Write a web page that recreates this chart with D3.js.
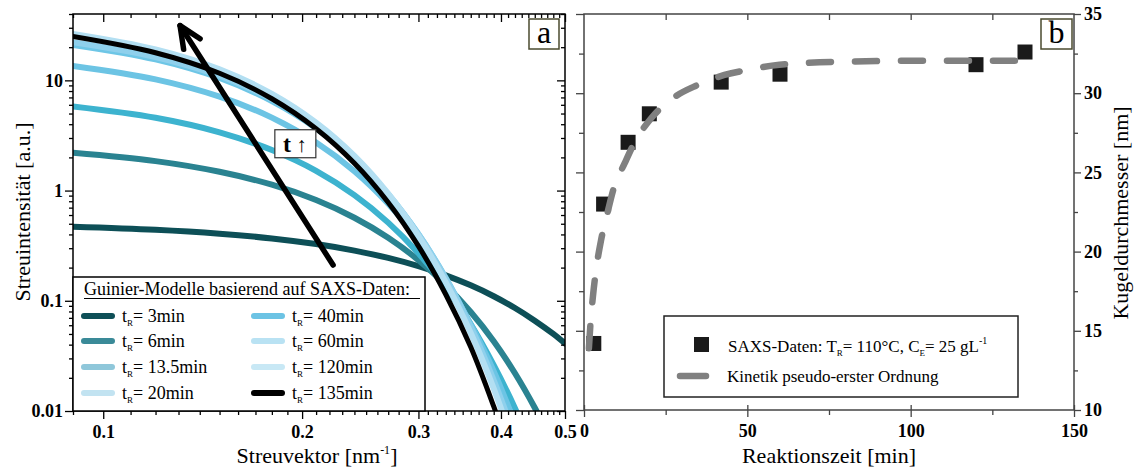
<!DOCTYPE html>
<html>
<head>
<meta charset="utf-8">
<script src="https://cdn.jsdelivr.net/npm/d3@7"></script>
<style>
  body { margin: 0; background: #fff; }
  text { font-family: "Liberation Serif", "Times New Roman", serif; }
  .tick text { font-size: 18px; font-weight: bold; fill: #000; }
</style>
</head>
<body>
<div id="chart"></div>
<script>
// ---- panel a: Guinier models ----
const qValues = [0.09, 0.12, 0.15, 0.18, 0.21, 0.24, 0.27, 0.30, 0.33, 0.36, 0.39, 0.42, 0.45, 0.48, 0.50];
const seriesLabels = ['3min', '6min', '13.5min', '20min', '40min', '60min', '120min', '135min'];
const int3 = [0.470, 0.441, 0.406, 0.368, 0.327, 0.285, 0.245, 0.206, 0.170, 0.138, 0.110, 0.086, 0.066, 0.050, 0.041];
const int6 = [2.20, 1.85, 1.48, 1.13, 0.821, 0.567, 0.373, 0.234, 0.139, 0.079, 0.043, 0.022, 0.0107, 0.0050];
const int13 = [5.80, 4.58, 3.38, 2.33, 1.51, 0.908, 0.512, 0.270, 0.133, 0.061, 0.026, 0.0106, 0.0040];
const int20 = [13.5, 10.2, 7.11, 4.59, 2.73, 1.50, 0.760, 0.356, 0.154, 0.061, 0.023, 0.0077];
const int40 = [21.0, 15.5, 10.5, 6.48, 3.68, 1.92, 0.916, 0.401, 0.161, 0.059, 0.020, 0.0062];
const int60 = [22.2, 16.3, 11.0, 6.75, 3.80, 1.96, 0.927, 0.401, 0.159, 0.058, 0.019, 0.0058];
const int120 = [26.4, 19.1, 12.6, 7.54, 4.13, 2.06, 0.936, 0.388, 0.147, 0.051, 0.016, 0.0045];
const int135 = [25.0, 17.8, 11.6, 6.81, 3.64, 1.77, 0.780, 0.313, 0.114, 0.038, 0.011, 0.0031];
const xTicksA = [0.1, 0.2, 0.3, 0.4, 0.5];
const yTicksA = [0.01, 0.1, 1, 10];

// ---- panel b: particle diameter vs reaction time ----
const timeMin = [3, 6, 13.5, 20, 42, 60, 120, 135];
const diameterNm = [14.2, 23.0, 26.9, 28.7, 30.7, 31.2, 31.8, 32.6];
const fitTime = [1.5, 2.0, 2.8, 3.8, 5.2, 6.9, 9.1, 12.5, 15.5, 20.5, 27.3, 34.6, 43, 50.9, 59.8, 82.3, 104.7, 139];
const fitDiameter = [13.9, 15.5, 17.3, 19.0, 20.7, 22.2, 24.0, 25.6, 26.9, 28.4, 29.7, 30.5, 31.15, 31.5, 31.8, 32.0, 32.05, 32.05];
const xTicksB = [0, 50, 100, 150];
const yTicksB = [10, 15, 20, 25, 30, 35];

const lineColors = ['#0d4f57', '#2a8391', '#3db3cf', '#6cc4e4', '#6ec6e6', '#8fd0ec', '#b3dff2', '#000000'];
const legendColors = ['#0e4f57', '#3a8a98', '#8fc7da', '#c2e3f1', '#6cc3e4', '#b9e2f3', '#c8e8f5', '#000000'];
const intensities = [int3, int6, int13, int20, int40, int60, int120, int135];

const svg = d3.select('#chart').append('svg')
    .attr('width', 1136)
    .attr('height', 470);

const xA = d3.scaleLog().domain([0.09, 0.5]).range([73, 565]);
const yA = d3.scaleLog().domain([0.01, 40]).range([411, 14]);
const xB = d3.scaleLinear().domain([0, 150]).range([584, 1074]);
const yB = d3.scaleLinear().domain([10, 35]).range([410, 14]);

function drawAxis(axis, tx, ty, color) {
    const g = svg.append('g')
        .attr('transform', `translate(${tx},${ty})`)
        .call(axis);
    g.select('.domain').remove();
    g.selectAll('.tick line').attr('stroke', color).attr('stroke-width', 1.3);
    return g;
}

// minor tick values
const xMinorA = d3.range(9, 51).map(d => d / 100).filter(d => !xTicksA.some(m => Math.abs(m - d) < 1e-9));
const yMinorA = [];
yTicksA.forEach(dec => d3.range(2, 10).forEach(m => { if (dec * m <= 40) yMinorA.push(dec * m); }));
const noLabel = () => '';

// ---------- panel a ----------
svg.append('clipPath').attr('id', 'clipA')
    .append('rect')
    .attr('x', xA.range()[0]).attr('y', yA.range()[1])
    .attr('width', xA.range()[1] - xA.range()[0])
    .attr('height', yA.range()[0] - yA.range()[1]);

const lineA = d3.line()
    .x(d => xA(d[0]))
    .y(d => yA(d[1]))
    .curve(d3.curveCatmullRom);

const curves = svg.append('g').attr('clip-path', 'url(#clipA)');
intensities.forEach((vals, i) => {
    curves.append('path')
        .datum(vals.map((v, j) => [qValues[j], v]))
        .attr('d', lineA)
        .attr('fill', 'none')
        .attr('stroke', lineColors[i])
        .attr('stroke-width', i === 7 ? 5 : 6)
        .attr('stroke-linecap', 'round');
});

// axes a
const y0A = yA.range()[0], y1A = yA.range()[1];
const x0A = xA.range()[0], x1A = xA.range()[1];
drawAxis(d3.axisBottom(xA).tickValues(xTicksA).tickSize(8).tickPadding(6).tickFormat(d3.format('.1f')), 0, y0A, '#000');
drawAxis(d3.axisBottom(xA).tickValues(xMinorA).tickSize(4).tickFormat(noLabel), 0, y0A, '#000');
drawAxis(d3.axisBottom(xA).tickValues(xTicksA).tickSize(8).tickFormat(noLabel), 0, y1A, '#000');
drawAxis(d3.axisBottom(xA).tickValues(xMinorA).tickSize(4).tickFormat(noLabel), 0, y1A, '#000');
drawAxis(d3.axisLeft(yA).tickValues(yTicksA).tickSize(8).tickPadding(2).tickFormat(d => String(d)), x0A, 0, '#000');
drawAxis(d3.axisLeft(yA).tickValues(yMinorA).tickSize(4).tickFormat(noLabel), x0A, 0, '#000');
drawAxis(d3.axisLeft(yA).tickValues(yTicksA).tickSize(8).tickFormat(noLabel), x1A, 0, '#000');
drawAxis(d3.axisLeft(yA).tickValues(yMinorA).tickSize(4).tickFormat(noLabel), x1A, 0, '#000');
svg.append('rect')
    .attr('x', x0A).attr('y', y1A)
    .attr('width', x1A - x0A).attr('height', y0A - y1A)
    .attr('fill', 'none').attr('stroke', '#000').attr('stroke-width', 1.5);

// arrow "t up"
const tail = [xA(0.2228), yA(0.211)];
const tip = [xA(0.1307), yA(31.4)];
const ang = Math.atan2(tail[1] - tip[1], tail[0] - tip[0]);
const armLen = 24, spread = 24 * Math.PI / 180;
const arrow = svg.append('g')
    .attr('stroke', '#000').attr('stroke-width', 5.5)
    .attr('stroke-linecap', 'round').attr('fill', 'none');
arrow.append('line')
    .attr('x1', tail[0]).attr('y1', tail[1])
    .attr('x2', tip[0]).attr('y2', tip[1]);
arrow.append('path')
    .attr('stroke-linejoin', 'round')
    .attr('d', `M${tip[0] + armLen * Math.cos(ang - spread)},${tip[1] + armLen * Math.sin(ang - spread)}` +
        `L${tip[0]},${tip[1]}` +
        `L${tip[0] + armLen * Math.cos(ang + spread)},${tip[1] + armLen * Math.sin(ang + spread)}`);

const tBox = [xA(0.195), yA(2.66)];
svg.append('rect')
    .attr('x', tBox[0] - 20).attr('y', tBox[1] - 14)
    .attr('width', 41).attr('height', 28)
    .attr('fill', '#fff').attr('stroke', '#333').attr('stroke-width', 1.2);
const tText = svg.append('text')
    .attr('x', tBox[0]).attr('y', tBox[1] + 8)
    .attr('text-anchor', 'middle')
    .style('font-size', '24px');
tText.append('tspan').attr('font-weight', 'bold').text('t');
tText.append('tspan').style('font-size', '21px').text(' ↑');

// legend a
svg.append('rect')
    .attr('x', x0A).attr('y', 277)
    .attr('width', 352).attr('height', y0A - 277)
    .attr('fill', '#fff').attr('stroke', '#000').attr('stroke-width', 1.5);
svg.append('text')
    .attr('x', 84).attr('y', 295)
    .style('font-size', '18px')
    .text('Guinier-Modelle basierend auf SAXS-Daten:');
svg.append('line')
    .attr('x1', 84).attr('x2', 420).attr('y1', 298.5).attr('y2', 298.5)
    .attr('stroke', '#000').attr('stroke-width', 1);

const rowY = [316, 341, 367, 393];
seriesLabels.forEach((lab, i) => {
    const col = Math.floor(i / 4), row = i % 4;
    const sx = col === 0 ? 84 : 254;
    const y = rowY[row];
    svg.append('line')
        .attr('x1', sx).attr('x2', sx + 28)
        .attr('y1', y).attr('y2', y)
        .attr('stroke', legendColors[i]).attr('stroke-width', 6)
        .attr('stroke-linecap', 'round');
    const t = svg.append('text')
        .attr('x', sx + 38).attr('y', y + 6)
        .style('font-size', '18px');
    t.append('tspan').text('t');
    t.append('tspan').attr('dy', 4).style('font-size', '9px').text('R');
    t.append('tspan').attr('dy', -4).text('= ' + lab);
});

// label box a
svg.append('rect')
    .attr('x', 529).attr('y', 19).attr('width', 30).attr('height', 30)
    .attr('fill', '#fff').attr('stroke', '#4b4b2f').attr('stroke-width', 1.5);
svg.append('text')
    .attr('x', 544).attr('y', 43).attr('text-anchor', 'middle')
    .style('font-size', '32px').text('a');

// axis titles a
const xt = svg.append('text')
    .attr('x', 317).attr('y', 463).attr('text-anchor', 'middle')
    .style('font-size', '22px');
xt.append('tspan').text('Streuvektor [nm');
xt.append('tspan').attr('dy', -9).style('font-size', '12px').text('-1');
xt.append('tspan').attr('dy', 9).text(']');
svg.append('text')
    .attr('transform', 'translate(30,212) rotate(-90)')
    .attr('text-anchor', 'middle')
    .style('font-size', '22px')
    .text('Streuintensität [a.u.]');

// ---------- panel b ----------
const x0B = xB.range()[0], x1B = xB.range()[1];
const y0B = yB.range()[0], y1B = yB.range()[1];
const axisGrey = '#444';
const yMinorB = [12.5, 17.5, 22.5, 27.5, 32.5];

drawAxis(d3.axisBottom(xB).tickValues(xTicksB).tickSize(7).tickPadding(7).tickFormat(d3.format('d')), 0, y0B, axisGrey);
drawAxis(d3.axisTop(xB).tickValues(xTicksB).tickSize(5).tickFormat(noLabel), 0, y0B, axisGrey);
drawAxis(d3.axisBottom(xB).tickValues([25, 75, 125]).tickSize(5).tickFormat(noLabel), 0, y0B, axisGrey);
drawAxis(d3.axisBottom(xB).tickValues(d3.range(25, 150, 25)).tickSize(6).tickFormat(noLabel), 0, y1B, axisGrey);
drawAxis(d3.axisLeft(yB).tickValues(yTicksB).tickSize(8).tickFormat(noLabel), x0B, 0, axisGrey);
drawAxis(d3.axisLeft(yB).tickValues(yMinorB).tickSize(5).tickFormat(noLabel), x0B, 0, axisGrey);
drawAxis(d3.axisRight(yB).tickValues(yTicksB).tickSize(7).tickPadding(3).tickFormat(d3.format('d')), x1B, 0, axisGrey);
drawAxis(d3.axisRight(yB).tickValues(yMinorB).tickSize(4).tickFormat(noLabel), x1B, 0, axisGrey);
svg.append('rect')
    .attr('x', x0B).attr('y', y1B)
    .attr('width', x1B - x0B).attr('height', y0B - y1B)
    .attr('fill', 'none').attr('stroke', axisGrey).attr('stroke-width', 1.5);

// data squares
svg.append('g').selectAll('rect')
    .data(timeMin.map((t, i) => [t, diameterNm[i]]))
    .enter()
    .append('rect')
    .attr('x', d => xB(d[0]) - 7.5)
    .attr('y', d => yB(d[1]) - 7.5)
    .attr('width', 15).attr('height', 15)
    .attr('fill', '#1a1a1a');

// kinetic fit
const lineB = d3.line()
    .x(d => xB(d[0]))
    .y(d => yB(d[1]))
    .curve(d3.curveMonotoneX);
svg.append('path')
    .datum(fitTime.map((t, i) => [t, fitDiameter[i]]))
    .attr('d', lineB)
    .attr('fill', 'none')
    .attr('stroke', '#808080')
    .attr('stroke-width', 6.5)
    .attr('stroke-linecap', 'round')
    .attr('stroke-dasharray', '22,24');

// legend b
svg.append('rect')
    .attr('x', 664).attr('y', 316).attr('width', 354).attr('height', 81)
    .attr('fill', '#fff').attr('stroke', '#222').attr('stroke-width', 1.5);
svg.append('rect')
    .attr('x', 694).attr('y', 337).attr('width', 15).attr('height', 15)
    .attr('fill', '#1a1a1a');
const l1 = svg.append('text')
    .attr('x', 728).attr('y', 352)
    .style('font-size', '17px');
l1.append('tspan').text('SAXS-Daten: T');
l1.append('tspan').attr('dy', 4).style('font-size', '9px').text('R');
l1.append('tspan').attr('dy', -4).text('= 110°C, C');
l1.append('tspan').attr('dy', 4).style('font-size', '9px').text('E');
l1.append('tspan').attr('dy', -4).text('= 25 gL');
l1.append('tspan').attr('dy', -8).style('font-size', '10px').text('-1');
svg.append('line')
    .attr('x1', 680).attr('x2', 706).attr('y1', 376).attr('y2', 376)
    .attr('stroke', '#808080').attr('stroke-width', 6.5)
    .attr('stroke-linecap', 'round');
svg.append('text')
    .attr('x', 727).attr('y', 382)
    .style('font-size', '17px')
    .text('Kinetik pseudo-erster Ordnung');

// label box b
svg.append('rect')
    .attr('x', 1041).attr('y', 19).attr('width', 31).attr('height', 30)
    .attr('fill', '#fff').attr('stroke', '#4b4b2f').attr('stroke-width', 1.5);
svg.append('text')
    .attr('x', 1056.5).attr('y', 43).attr('text-anchor', 'middle')
    .style('font-size', '32px').text('b');

// axis titles b
svg.append('text')
    .attr('x', 829).attr('y', 463).attr('text-anchor', 'middle')
    .style('font-size', '22px')
    .text('Reaktionszeit [min]');
svg.append('text')
    .attr('transform', 'translate(1128,213) rotate(-90)')
    .attr('text-anchor', 'middle')
    .style('font-size', '22px')
    .text('Kugeldurchmesser [nm]');
</script>
</body>
</html>
